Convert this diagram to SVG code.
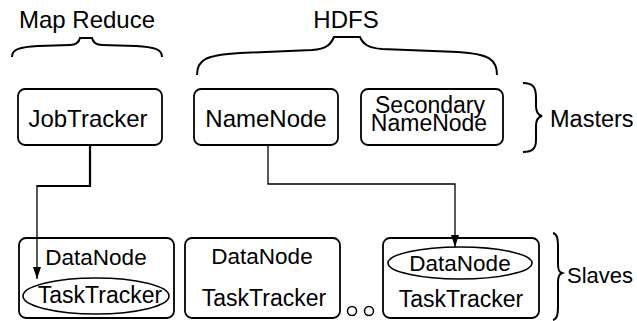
<svg xmlns="http://www.w3.org/2000/svg" width="637" height="321" viewBox="0 0 637 321">
<defs>
<style>
.box{fill:#fff;stroke:#000;stroke-width:1.8}
.ell{fill:none;stroke:#000;stroke-width:1.6}
.brace{fill:none;stroke:#000;stroke-width:2}
.conn{fill:none;stroke:#000;stroke-width:1.3}
.thick{fill:none;stroke:#000;stroke-width:2.2}
text{font-family:"Liberation Sans",Arial,sans-serif;fill:#000}
.m{text-anchor:middle}
</style>
<marker id="arrow" markerWidth="12" markerHeight="8" refX="12" refY="4" orient="auto" markerUnits="userSpaceOnUse" viewBox="0 0 12 8">
<path d="M0,0 L12,4 L0,8 Z" fill="#000"/>
</marker>
</defs>
<rect width="637" height="321" fill="#fff"/>

<g id="labels">
<text x="87" y="28" class="m" font-size="24">Map Reduce</text>
<text x="346" y="28" class="m" font-size="24">HDFS</text>
<path class="brace" d="M12,57 C12,49 20,47 38,46 L70,45 C77,45 79,42 80,38 L92,38 C93,42 95,45 102,45 L136,46 C154,47 162,49 162,57"/>
<path class="brace" d="M197,75 C197,60 205,55 240,53 L312,50 C327,49 331,44 334,37 L360,37 C363,44 368,48 382,49 L458,52 C490,54 497,60 497,75"/>
<path class="brace" d="M523,83 C533,83 536,87 536,98 L536,106 C536,112 538,115 542,116 C538,117 536,120 536,126 L536,140 C536,148 533,152 523,152"/>
<text x="550" y="127" font-size="23.5">Masters</text>
<path class="brace" d="M553,233 C557,234 558,238 558,248 L558,264 C558,270 559,272 562,273 C559,274 558,277 558,282 L558,306 C558,315 557,319 553,320"/>
<text x="567" y="283" font-size="22">Slaves</text>
</g>

<g id="jobtracker">
<rect class="box" x="18" y="89" width="144" height="56" rx="7"/>
<text x="88" y="127" class="m" font-size="24">JobTracker</text>
</g>
<g id="namenode">
<rect class="box" x="194" y="89" width="144" height="56" rx="7"/>
<text x="266" y="127" class="m" font-size="24">NameNode</text>
</g>
<g id="secondary">
<rect class="box" x="361" y="89" width="142" height="56" rx="7"/>
<text x="430" y="113" class="m" font-size="23">Secondary</text>
<text x="429" y="131" class="m" font-size="23">NameNode</text>
</g>

<g id="slave1">
<rect class="box" x="19" y="238" width="155" height="80" rx="7"/>
<text x="96" y="265" class="m" font-size="22.5">DataNode</text>
<ellipse class="ell" cx="96" cy="296" rx="73" ry="18"/>
<text x="100" y="303" class="m" font-size="23">TaskTracker</text>
</g>
<g id="slave2">
<rect class="box" x="185" y="238" width="155" height="80" rx="7"/>
<text x="262" y="264" class="m" font-size="22.5">DataNode</text>
<text x="264" y="306" class="m" font-size="23">TaskTracker</text>
</g>
<g id="dots">
<circle cx="352" cy="311" r="4.5" fill="none" stroke="#000" stroke-width="1.5"/>
<circle cx="369" cy="311" r="4.5" fill="none" stroke="#000" stroke-width="1.5"/>
</g>
<g id="slave3">
<rect class="box" x="383" y="238" width="156" height="80" rx="7"/>
<ellipse class="ell" cx="460" cy="263" rx="72" ry="16"/>
<text x="460" y="271" class="m" font-size="22.5">DataNode</text>
<text x="461" y="307" class="m" font-size="23">TaskTracker</text>
</g>

<g id="connectors">
<path class="thick" d="M90,145 V186 H37"/>
<path class="conn" d="M37,185 V279" marker-end="url(#arrow)"/>
<path class="conn" d="M268,145 V184 H455 V247" marker-end="url(#arrow)"/>
</g>
</svg>
